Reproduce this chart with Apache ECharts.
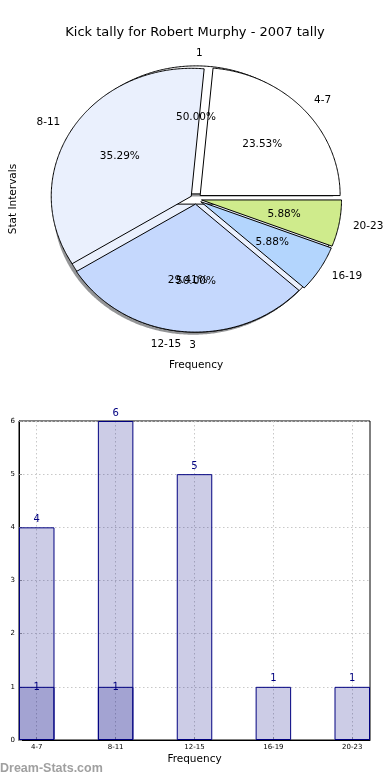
<!DOCTYPE html>
<html><head><meta charset="utf-8">
<script src="https://cdn.jsdelivr.net/npm/echarts@6/dist/echarts.min.js"></script>
<style>html,body{margin:0;padding:0;background:#fff}#c{width:390px;height:780px}</style>
</head><body><div id="c"></div>
<script>
// ---- data ----
const categories = ['4-7', '8-11', '12-15', '16-19', '20-23'];
const tallyValues = [4, 6, 5, 1, 1];
const innerLabels = ['1', '3'];
const innerValues = [1, 1];
const overlayValues = [1, 1];        // darker bars for 4-7 and 8-11
const yTickValues = [0, 1, 2, 3, 4, 5, 6];
const xTickPositions = [0, 1, 2, 3, 4];

// ---- styles ----
const pieColors = ['#ffffff', '#eaf0fd', '#c5d8fd', '#b3d5fd', '#cfeb8c'];
const FONT = 'DejaVu Sans';
const EXPLODE = 0.04;

function pieData(values) {
  const total = values.reduce((a, b) => a + b, 0);
  let acc = 0;
  return values.map((v, i) => { const s = acc / total; acc += v; return [s, acc / total, i, v / total]; });
}

function pieSeries(values, labels, mode, z, shadow) {
  return {
    type: 'custom', xAxisIndex: 0, yAxisIndex: 0, z: z, clip: false, silent: true,
    data: pieData(values),
    renderItem: function (params, api) {
      const s = api.value(0) * 2 * Math.PI, e = api.value(1) * 2 * Math.PI, i = api.value(2), frac = api.value(3);
      const mid = (s + e) / 2;
      const ex = EXPLODE * Math.cos(mid), ey = EXPLODE * Math.sin(mid);
      const children = [];
      if (mode === 'wedge') {
        const pts = [api.coord([ex, ey])];
        const n = Math.max(3, Math.ceil((e - s) / 0.01));
        for (let k = 0; k <= n; k++) {
          const a = s + (e - s) * k / n;
          pts.push(api.coord([ex + Math.cos(a), ey + Math.sin(a)]));
        }
        if (shadow) {
          children.push({ type: 'polygon', z2: 0, shape: { points: pts.map(p => [p[0] - 2.8, p[1] + 2.6]) },
            style: { fill: 'rgba(60,62,66,0.55)' } });
        }
        children.push({ type: 'polygon', z2: 1, shape: { points: pts },
          style: { fill: pieColors[i], stroke: '#000', lineWidth: 1 } });
      } else {
        const lp = api.coord([ex + 1.1 * Math.cos(mid), ey + 1.1 * Math.sin(mid)]);
        children.push({ type: 'text', x: lp[0], y: lp[1], style: { text: labels[i],
          align: Math.cos(mid) > 0 ? 'left' : 'right', verticalAlign: 'middle',
          fill: '#000', fontSize: 10.5, fontFamily: FONT } });
        const pp = api.coord([ex + 0.6 * Math.cos(mid), ey + 0.6 * Math.sin(mid)]);
        children.push({ type: 'text', x: pp[0], y: pp[1], style: { text: (frac * 100).toFixed(2) + '%',
          align: 'center', verticalAlign: 'middle', fill: '#000', fontSize: 10.5, fontFamily: FONT } });
      }
      return { type: 'group', children: children };
    }
  };
}

const chart = echarts.init(document.getElementById('c'), null, { renderer: 'canvas' });
const dotted = { show: true, lineStyle: { color: '#c8c8c8', type: [1.5, 2.5], width: 1 } };

chart.setOption({
  animation: false,
  backgroundColor: '#ffffff',
  textStyle: { fontFamily: FONT },
  title: {
    text: 'Kick tally for Robert Murphy - 2007 tally', left: 'center', top: 21,
    textStyle: { fontSize: 13, fontWeight: 'normal', color: '#000', fontFamily: FONT }
  },
  grid: [
    { left: 53, top: 71, width: 283, height: 256, show: false },
    { left: 19, right: 20, top: 421, bottom: 40, show: true, borderColor: '#000', borderWidth: 1, backgroundColor: 'transparent' }
  ],
  xAxis: [
    { gridIndex: 0, type: 'value', min: -1, max: 1, axisLine: { show: false }, axisTick: { show: false },
      axisLabel: { show: false }, splitLine: { show: false },
      name: 'Frequency', nameLocation: 'middle', nameGap: 33,
      nameTextStyle: { fontSize: 10.5, color: '#000', fontFamily: FONT } },
    { gridIndex: 1, type: 'value', min: -0.225, max: 4.225,
      axisLine: { show: true, onZero: false, lineStyle: { color: '#000' } },
      axisTick: { show: true, inside: true, length: 3, customValues: xTickPositions, lineStyle: { color: '#999' } },
      axisLabel: { customValues: xTickPositions, formatter: v => categories[Math.round(v)] || '',
        fontSize: 7, color: '#000', margin: 4, fontFamily: FONT },
      splitLine: dotted,
      name: 'Frequency', nameLocation: 'middle', nameGap: 14,
      nameTextStyle: { fontSize: 10.5, color: '#000', fontFamily: FONT } }
  ],
  yAxis: [
    { gridIndex: 0, type: 'value', min: -1, max: 1, axisLine: { show: false }, axisTick: { show: false },
      axisLabel: { show: false }, splitLine: { show: false },
      name: 'Stat Intervals', nameLocation: 'middle', nameGap: 37,
      nameTextStyle: { fontSize: 10.5, color: '#000', fontFamily: FONT } },
    { gridIndex: 1, type: 'value', min: 0, max: 6, interval: 1,
      axisLine: { show: true, onZero: false, lineStyle: { color: '#000' } },
      axisTick: { show: true, inside: true, length: 3, lineStyle: { color: '#999' } },
      axisLabel: { fontSize: 7, color: '#000', margin: 4, fontFamily: FONT,
        customValues: yTickValues },
      splitLine: dotted }
  ],
  series: [
    pieSeries(innerValues, innerLabels, 'wedge', 1, true),
    pieSeries(tallyValues, categories, 'wedge', 2, false),
    pieSeries(innerValues, innerLabels, 'label', 3, false),
    pieSeries(tallyValues, categories, 'label', 3, false),
    {
      type: 'bar', xAxisIndex: 1, yAxisIndex: 1, barWidth: 35.5, barGap: '-100%', z: 2,
      data: tallyValues.map((v, i) => [i, v]),
      itemStyle: { color: 'rgba(0,0,128,0.2)', borderColor: '#000080', borderWidth: 1 },
      label: { show: true, position: 'top', distance: 3, color: '#000080', fontSize: 10, fontFamily: FONT,
        formatter: p => p.value[1] }
    },
    {
      type: 'bar', xAxisIndex: 1, yAxisIndex: 1, barWidth: 35.5, barGap: '-100%', z: 3,
      data: overlayValues.map((v, i) => [i, v]),
      itemStyle: { color: 'rgba(0,0,128,0.2)', borderColor: '#000080', borderWidth: 1 },
      label: { show: true, position: 'top', distance: 3, offset: [0, 9], color: '#000080', fontSize: 10, fontFamily: FONT,
        formatter: p => p.value[1] }
    }
  ],
  graphic: [
    { type: 'text', left: 0, top: 762, style: { text: 'Dream-Stats.com', fill: '#a0a0a0',
      font: 'bold 12.5px "Liberation Sans", Arial, sans-serif' } }
  ]
});
</script>
</body></html>
